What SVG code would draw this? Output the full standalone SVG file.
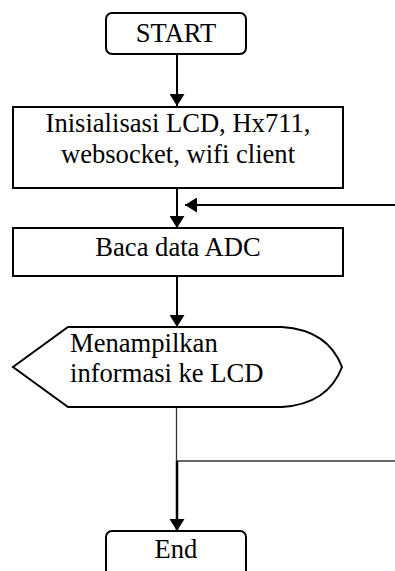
<svg xmlns="http://www.w3.org/2000/svg" width="395" height="571" viewBox="0 0 395 571">
<style>
.n{fill:#fff;stroke:#000;stroke-width:2}
.t{font-family:"Liberation Serif","Times New Roman",serif;font-size:26.6px;fill:#000}
.c{fill:none;stroke:#000;stroke-width:2}
.thin{fill:none;stroke:#333;stroke-width:1.3}
</style>
<defs>
<marker id="ah" viewBox="0 0 12 15" refX="12" refY="7.5" markerWidth="12" markerHeight="15" markerUnits="userSpaceOnUse" orient="auto">
<path d="M0,0 L12,7.5 L0,15 Z" fill="#000"/>
</marker>
</defs>
<g id="connectors">
<line class="c" x1="177" y1="54" x2="177" y2="106" marker-end="url(#ah)"/>
<line class="c" x1="177" y1="188" x2="177" y2="228" marker-end="url(#ah)"/>
<line class="c" x1="395" y1="205" x2="185" y2="205" marker-end="url(#ah)"/>
<line class="c" x1="177" y1="276" x2="177" y2="327" marker-end="url(#ah)"/>
<line class="thin" x1="176.5" y1="407" x2="176.5" y2="461"/>
<line class="thin" x1="176.5" y1="461" x2="395" y2="461"/>
<line class="c" x1="177" y1="461" x2="177" y2="531" marker-end="url(#ah)" style="stroke-width:2.5"/>
</g>
<g id="start">
<rect class="n" x="106" y="13" width="140" height="41" rx="6"/>
<text class="t" x="176" y="42" text-anchor="middle">START</text>
</g>
<g id="init">
<rect class="n" x="13" y="107" width="330" height="81"/>
<text class="t" x="178" y="132" text-anchor="middle">Inisialisasi LCD, Hx711,</text>
<text class="t" x="178" y="163" text-anchor="middle">websocket, wifi client</text>
</g>
<g id="baca">
<rect class="n" x="13" y="228" width="330" height="48"/>
<text class="t" x="178" y="256" text-anchor="middle">Baca data ADC</text>
</g>
<g id="display">
<path class="n" d="M68,327 L282,327 Q328,330 342,367 Q328,404 282,407 L68,407 L13,367 Z"/>
<text class="t" x="70" y="352">Menampilkan</text>
<text class="t" x="70" y="382">informasi ke LCD</text>
</g>
<g id="end">
<rect class="n" x="106" y="531" width="140" height="48" rx="6"/>
<text class="t" x="176" y="558" text-anchor="middle">End</text>
</g>
</svg>
